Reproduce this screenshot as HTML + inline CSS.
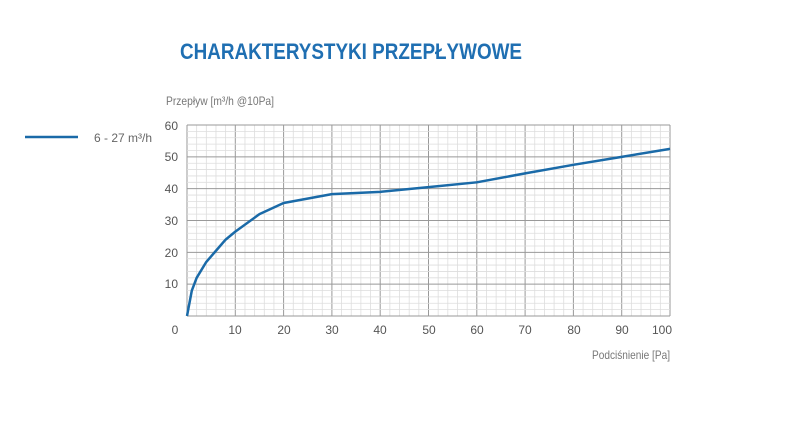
<!DOCTYPE html>
<html><head><style>
html,body{margin:0;padding:0;background:#fff;width:797px;height:433px;overflow:hidden}
</style></head><body>
<svg width="797" height="433" xmlns="http://www.w3.org/2000/svg" font-family="'Liberation Sans', sans-serif">
<text x="180" y="59" font-size="22" font-weight="bold" fill="#1f6fb2" textLength="342" lengthAdjust="spacingAndGlyphs">CHARAKTERYSTYKI PRZEPŁYWOWE</text>
<text x="166" y="105" font-size="12" fill="#777" textLength="108" lengthAdjust="spacingAndGlyphs">Przepływ [m³/h @10Pa]</text>
<line x1="25" y1="137" x2="78" y2="137" stroke="#1a6aa8" stroke-width="2.5"/>
<text x="94" y="142" font-size="12" fill="#666" textLength="58" lengthAdjust="spacingAndGlyphs">6 - 27 m³/h</text>
<g id="grid"></g>
<g font-size="12" fill="#555" text-anchor="end">
<text x="178" y="130">60</text><text x="178" y="161">50</text><text x="178" y="193">40</text>
<text x="178" y="225">30</text><text x="178" y="257">20</text><text x="178" y="288">10</text>
</g>
<g font-size="12" fill="#555" text-anchor="middle">
<text x="175" y="334">0</text><text x="235" y="334">10</text><text x="284" y="334">20</text><text x="332" y="334">30</text><text x="380" y="334">40</text><text x="429" y="334">50</text><text x="477" y="334">60</text><text x="525" y="334">70</text><text x="574" y="334">80</text><text x="622" y="334">90</text><text x="662" y="334">100</text>
</g>
<text x="670" y="359" font-size="12" fill="#777" text-anchor="end" textLength="78" lengthAdjust="spacingAndGlyphs">Podciśnienie [Pa]</text>
<polyline id="curve" fill="none" stroke="#1a6aa8" stroke-width="2.5" stroke-linejoin="round"/>
</svg>
<script>
var g=document.getElementById('grid'),ns='http://www.w3.org/2000/svg';
function X(v){return 187+4.83*v}function Y(v){return 316-3.183*v}
function L(x1,y1,x2,y2,c,w){var l=document.createElementNS(ns,'line');l.setAttribute('x1',x1);l.setAttribute('y1',y1);l.setAttribute('x2',x2);l.setAttribute('y2',y2);l.setAttribute('stroke',c);l.setAttribute('stroke-width',w);g.appendChild(l)}
for(var i=0;i<=50;i++){var m=i%5==0;L(X(i*2),Y(0),X(i*2),Y(60),m?'#999':'#ddd',m?1:0.8)}
for(var j=0;j<=30;j++){var m=j%5==0;L(X(0),Y(j*2),X(100),Y(j*2),m?'#999':'#ddd',m?1:0.8)}
var d=[[0,0],[0.5,4],[1,8],[2,12],[4,17],[6,20.5],[8,24],[10,26.5],[15,32],[20,35.5],[30,38.3],[40,39],[50,40.5],[60,42],[70,44.8],[80,47.5],[90,50],[100,52.5]];
document.getElementById('curve').setAttribute('points',d.map(function(p){return X(p[0])+','+Y(p[1])}).join(' '));
</script>
</body></html>
